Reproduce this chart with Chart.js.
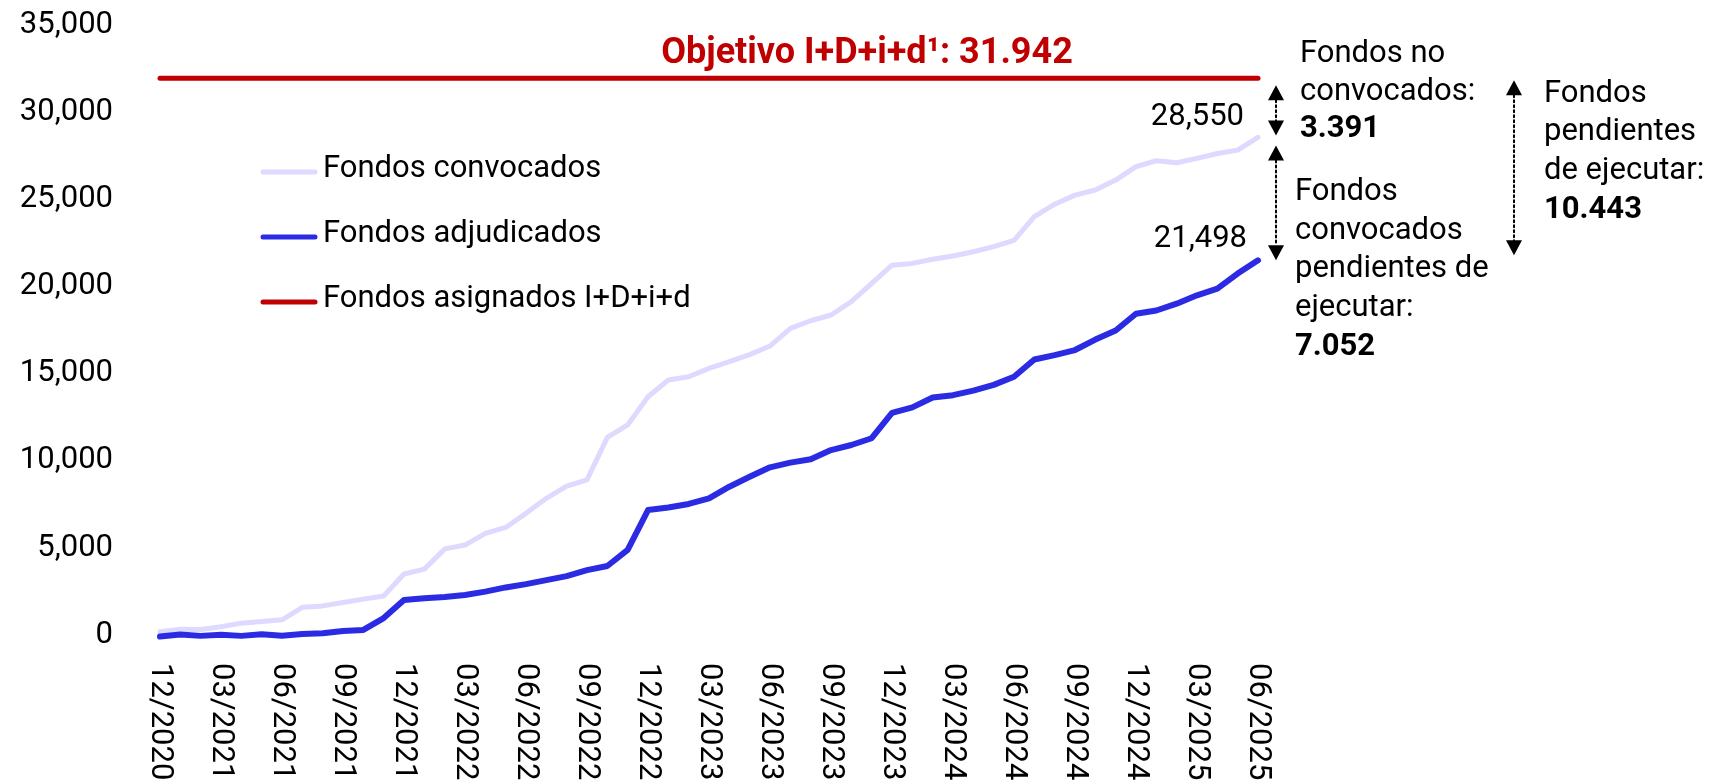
<!DOCTYPE html>
<html>
<head>
<meta charset="utf-8">
<script src="https://cdn.jsdelivr.net/npm/chart.js@4.4.1/dist/chart.umd.min.js"></script>
<style>
  html, body { margin: 0; padding: 0; background: #fff; overflow: hidden; }
</style>
</head>
<body>
<canvas id="grafico" width="1711" height="784"></canvas>
<script>
const meses = [
    '12/2020',
    '01/2021', '02/2021', '03/2021', '04/2021', '05/2021', '06/2021', '07/2021', '08/2021', '09/2021', '10/2021', '11/2021', '12/2021',
    '01/2022', '02/2022', '03/2022', '04/2022', '05/2022', '06/2022', '07/2022', '08/2022', '09/2022', '10/2022', '11/2022', '12/2022',
    '01/2023', '02/2023', '03/2023', '04/2023', '05/2023', '06/2023', '07/2023', '08/2023', '09/2023', '10/2023', '11/2023', '12/2023',
    '01/2024', '02/2024', '03/2024', '04/2024', '05/2024', '06/2024', '07/2024', '08/2024', '09/2024', '10/2024', '11/2024', '12/2024',
    '01/2025', '02/2025', '03/2025', '04/2025', '05/2025', '06/2025'
];

const fondosConvocados = [
    190, 330, 320, 470, 680, 770, 870, 1590, 1670, 1860, 2060, 2240, 3500,
    3780, 4940, 5160, 5830, 6170, 6980, 7840, 8540, 8900, 11340, 12050, 13670,
    14630, 14820, 15300, 15680, 16090, 16580, 17590, 18030, 18360, 19130, 20180, 21220,
    21320, 21560, 21750, 21990, 22280, 22640, 24000, 24720, 25240, 25530, 26100, 26870,
    27210, 27100, 27350, 27630, 27820, 28550
];

const fondosAdjudicados = [
    -90, 30, -50, 10, -50, 40, -40, 60, 100, 230, 290, 970, 2010,
    2110, 2180, 2300, 2490, 2730, 2920, 3150, 3380, 3720, 3960, 4880, 7170,
    7320, 7520, 7840, 8510, 9080, 9620, 9890, 10080, 10610, 10900, 11290, 12750,
    13060, 13630, 13760, 14020, 14350, 14820, 15810, 16060, 16350, 16950, 17470, 18430,
    18620, 19010, 19490, 19870, 20740, 21498
];

const objetivo = 31942;
const tituloObjetivo = 'Objetivo I+D+i+d\u00B9: 31.942';

// notas de la derecha: [texto, negrita]
const notaNoConvocados = [['Fondos no', false], ['convocados:', false], ['3.391', true]];
const notaConvPendientes = [['Fondos', false], ['convocados', false], ['pendientes de', false], ['ejecutar:', false], ['7.052', true]];
const notaPendientes = [['Fondos', false], ['pendientes', false], ['de ejecutar:', false], ['10.443', true]];

const FONT = 'Roboto, "Noto Sans", sans-serif';
const COLOR_CONV = '#DDD9FF';
const COLOR_ADJ = '#2B2BE3';
const COLOR_OBJ = '#C00000';

function drawArrow(ctx, x, yTop, yBottom) {
    const head = 15, half = 8;
    ctx.save();
    ctx.strokeStyle = '#000';
    ctx.fillStyle = '#000';
    ctx.lineWidth = 2;
    ctx.setLineDash([2, 3]);
    ctx.beginPath();
    ctx.moveTo(x, yTop + head);
    ctx.lineTo(x, yBottom - head);
    ctx.stroke();
    ctx.setLineDash([]);
    ctx.beginPath();
    ctx.moveTo(x, yTop);
    ctx.lineTo(x - half, yTop + head);
    ctx.lineTo(x + half, yTop + head);
    ctx.closePath();
    ctx.fill();
    ctx.beginPath();
    ctx.moveTo(x, yBottom);
    ctx.lineTo(x - half, yBottom - head);
    ctx.lineTo(x + half, yBottom - head);
    ctx.closePath();
    ctx.fill();
    ctx.restore();
}

function drawNote(ctx, lines, x, baselines) {
    lines.forEach(([text, bold], i) => {
        ctx.font = (bold ? 'bold ' : '') + '31px ' + FONT;
        ctx.fillText(text, x, baselines[i]);
    });
}

const overlay = {
    id: 'overlay',
    afterDraw(chart) {
        const { ctx, chartArea, scales: { x, y } } = chart;
        ctx.save();

        // etiquetas del eje x, giradas hacia abajo
        ctx.fillStyle = '#000';
        ctx.font = '31px ' + FONT;
        ctx.textAlign = 'left';
        ctx.textBaseline = 'middle';
        meses.forEach((m, i) => {
            if (i % 3 !== 0) return;
            ctx.save();
            ctx.translate(x.getPixelForValue(i), chartArea.bottom + 28);
            ctx.rotate(Math.PI / 2);
            ctx.fillText(m, 0, 0);
            ctx.restore();
        });

        // titulo del objetivo
        ctx.textBaseline = 'alphabetic';
        ctx.textAlign = 'center';
        ctx.fillStyle = COLOR_OBJ;
        ctx.font = 'bold 36px ' + FONT;
        ctx.fillText(tituloObjetivo, 867, 63);

        // leyenda
        const ds = chart.data.datasets;
        const legendItems = [ds[1], ds[0], ds[2]];
        ctx.textAlign = 'left';
        ctx.font = '31px ' + FONT;
        legendItems.forEach((item, i) => {
            const ly = 172 + i * 65;
            ctx.strokeStyle = item.borderColor;
            ctx.lineWidth = 5;
            ctx.lineCap = 'round';
            ctx.beginPath();
            ctx.moveTo(263, ly);
            ctx.lineTo(315, ly);
            ctx.stroke();
            ctx.fillStyle = '#000';
            ctx.fillText(item.label, 323, ly + 5);
        });

        // valores finales
        const last = meses.length - 1;
        const xEnd = x.getPixelForValue(last);
        const convEnd = fondosConvocados[last];
        const adjEnd = fondosAdjudicados[last];
        ctx.textAlign = 'right';
        ctx.fillText(convEnd.toLocaleString('en-US'), xEnd - 14, y.getPixelForValue(convEnd) - 12);
        ctx.fillText(adjEnd.toLocaleString('en-US'), xEnd - 11, y.getPixelForValue(adjEnd) - 13);

        // flechas
        const yObj = y.getPixelForValue(objetivo);
        const yConv = y.getPixelForValue(convEnd);
        const yAdj = y.getPixelForValue(adjEnd);
        drawArrow(ctx, 1276, yObj + 7, yConv - 2);
        drawArrow(ctx, 1276, yConv + 8, yAdj);
        drawArrow(ctx, 1514, yObj + 2, yAdj - 5);

        // notas
        ctx.textAlign = 'left';
        drawNote(ctx, notaNoConvocados, 1300, [62, 100, 137]);
        drawNote(ctx, notaConvPendientes, 1295, [200, 239, 277, 316, 355]);
        drawNote(ctx, notaPendientes, 1544, [102, 140, 179, 218]);

        ctx.restore();
    }
};

new Chart(document.getElementById('grafico').getContext('2d'), {
    type: 'line',
    data: {
        labels: meses,
        datasets: [
            {
                label: 'Fondos adjudicados',
                data: fondosAdjudicados,
                borderColor: COLOR_ADJ,
                borderWidth: 6,
            },
            {
                label: 'Fondos convocados',
                data: fondosConvocados,
                borderColor: COLOR_CONV,
                borderWidth: 5,
            },
            {
                label: 'Fondos asignados I+D+i+d',
                data: meses.map(() => objetivo),
                borderColor: COLOR_OBJ,
                borderWidth: 5,
            },
        ],
    },
    options: {
        responsive: false,
        animation: false,
        layout: { padding: { top: 25, right: 453, bottom: 149, left: 0 } },
        elements: {
            point: { radius: 0 },
            line: { tension: 0, borderCapStyle: 'round', borderJoinStyle: 'round', fill: false },
        },
        datasets: { line: { clip: false } },
        scales: {
            x: {
                offset: false,
                grid: { display: false, drawTicks: false },
                border: { display: false },
                ticks: { display: false },
            },
            y: {
                min: 0,
                max: 35000,
                afterFit: (scale) => {
                    scale.width = 160;
                    scale.paddingTop = 0;
                    scale.paddingBottom = 0;
                },
                grid: { display: false, drawTicks: false },
                border: { display: false },
                ticks: {
                    stepSize: 5000,
                    padding: 47,
                    color: '#000',
                    font: { family: FONT, size: 31 },
                    callback: (v) => v.toLocaleString('en-US'),
                },
            },
        },
        plugins: {
            legend: { display: false },
            tooltip: { enabled: false },
        },
    },
    plugins: [overlay],
});
</script>
</body>
</html>
